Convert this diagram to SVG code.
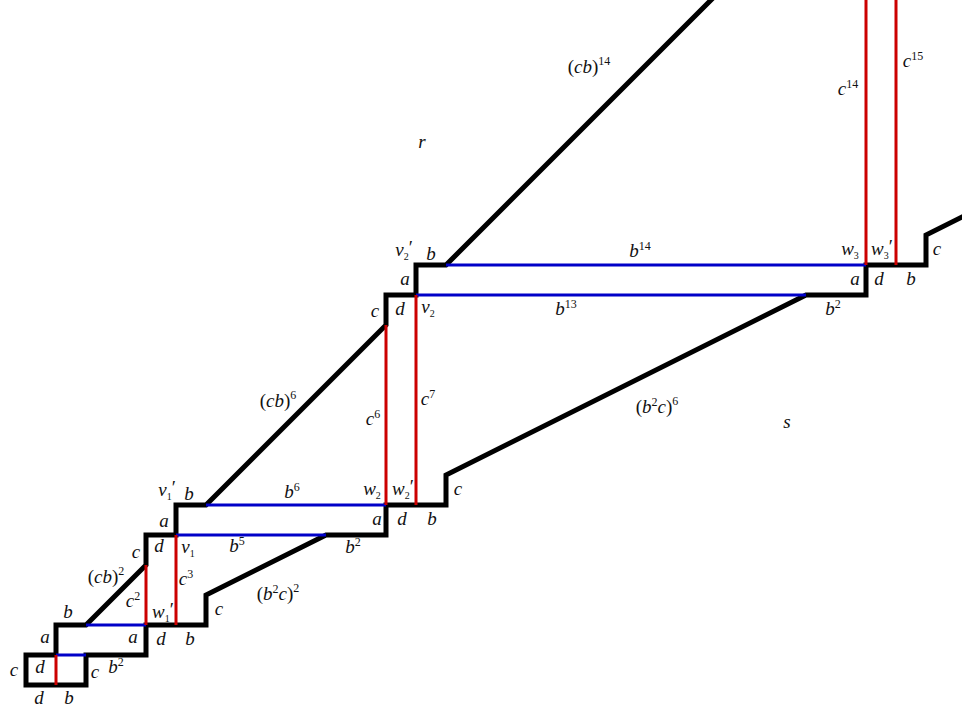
<svg xmlns="http://www.w3.org/2000/svg" width="962" height="713" viewBox="0 0 962 713">
<style>
.blk{fill:none;stroke:#000;stroke-width:5;stroke-linejoin:miter;stroke-linecap:butt}
.blu{fill:none;stroke:#0000c8;stroke-width:3}
.red{fill:none;stroke:#cc0000;stroke-width:3}
text{font-family:"Liberation Serif","DejaVu Serif",serif;font-size:19px;font-style:italic;fill:#111;text-anchor:middle}
.u{font-style:normal}
.sp{font-style:normal;font-size:12px}
.sb{font-style:normal;font-size:10px}
</style>
<rect width="962" height="713" fill="#fff"/>
<g id="boundary">
<path class="blk" d="M56,655 V625 H86 L146,565 V535 H176 V505 H206 L386,325 V295 H416 V265 H446 L716,-5"/>
<path class="blk" d="M56,655 H26 V685 H86 V655 H146 V625 H206 V595 L326,535 H386 V505 H446 V475 L806,295 H866 V265 H926 V235 L970,213"/>
</g>
<g id="connectors">
<path class="blu" d="M56,655H86 M86,625H146 M176,535H326 M206,505H386 M416,295H806 M446,265H866"/>
<path class="red" d="M56,655V685 M146,565V625 M176,535V625 M386,325V505 M416,295V505 M866,0V265 M896,0V265"/>
</g>
<g id="labels">
<text x="14" y="676">c</text>
<text x="40" y="673">d</text>
<text x="95" y="678">c</text>
<text x="116" y="673">b<tspan class="sp" dy="-7">2</tspan></text>
<text x="39" y="704">d</text>
<text x="69" y="704">b</text>
<text x="45" y="643">a</text>
<text x="133" y="643">a</text>
<text x="161" y="645">d</text>
<text x="190" y="645">b</text>
<text x="68" y="618">b</text>
<text x="163" y="618">w<tspan class="sb" dy="4">1</tspan><tspan class="u" dy="-6">′</tspan></text>
<text x="133" y="607">c<tspan class="sp" dy="-7">2</tspan></text>
<text x="106" y="583"><tspan class="u">(</tspan>cb<tspan class="u">)</tspan><tspan class="sp" dy="-8">2</tspan></text>
<text x="186" y="585">c<tspan class="sp" dy="-7">3</tspan></text>
<text x="219" y="615">c</text>
<text x="278" y="600"><tspan class="u">(</tspan>b<tspan class="sp" dy="-7">2</tspan><tspan dy="7">c</tspan><tspan class="u">)</tspan><tspan class="sp" dy="-8">2</tspan></text>
<text x="136" y="558">c</text>
<text x="159" y="552">d</text>
<text x="188" y="553">v<tspan class="sb" dy="4">1</tspan></text>
<text x="237" y="552">b<tspan class="sp" dy="-7">5</tspan></text>
<text x="353" y="553">b<tspan class="sp" dy="-7">2</tspan></text>
<text x="164" y="527">a</text>
<text x="167" y="496">v<tspan class="sb" dy="4">1</tspan><tspan class="u" dy="-6">′</tspan></text>
<text x="189" y="500">b</text>
<text x="292" y="498">b<tspan class="sp" dy="-7">6</tspan></text>
<text x="372" y="495">w<tspan class="sb" dy="4">2</tspan></text>
<text x="403" y="495">w<tspan class="sb" dy="4">2</tspan><tspan class="u" dy="-6">′</tspan></text>
<text x="458" y="495">c</text>
<text x="377" y="525">a</text>
<text x="402" y="525">d</text>
<text x="432" y="525">b</text>
<text x="278" y="407"><tspan class="u">(</tspan>cb<tspan class="u">)</tspan><tspan class="sp" dy="-8">6</tspan></text>
<text x="373" y="425">c<tspan class="sp" dy="-7">6</tspan></text>
<text x="428" y="405">c<tspan class="sp" dy="-7">7</tspan></text>
<text x="657" y="413"><tspan class="u">(</tspan>b<tspan class="sp" dy="-7">2</tspan><tspan dy="7">c</tspan><tspan class="u">)</tspan><tspan class="sp" dy="-8">6</tspan></text>
<text x="787" y="428">s</text>
<text x="375" y="317">c</text>
<text x="400" y="315">d</text>
<text x="428" y="313">v<tspan class="sb" dy="4">2</tspan></text>
<text x="566" y="315">b<tspan class="sp" dy="-7">13</tspan></text>
<text x="405" y="285">a</text>
<text x="404" y="256">v<tspan class="sb" dy="4">2</tspan><tspan class="u" dy="-6">′</tspan></text>
<text x="431" y="260">b</text>
<text x="640" y="257">b<tspan class="sp" dy="-7">14</tspan></text>
<text x="589" y="73"><tspan class="u">(</tspan>cb<tspan class="u">)</tspan><tspan class="sp" dy="-8">14</tspan></text>
<text x="422" y="148">r</text>
<text x="850" y="255">w<tspan class="sb" dy="4">3</tspan></text>
<text x="882" y="255">w<tspan class="sb" dy="4">3</tspan><tspan class="u" dy="-6">′</tspan></text>
<text x="937" y="255">c</text>
<text x="855" y="285">a</text>
<text x="879" y="285">d</text>
<text x="911" y="285">b</text>
<text x="833" y="315">b<tspan class="sp" dy="-7">2</tspan></text>
<text x="848" y="95">c<tspan class="sp" dy="-7">14</tspan></text>
<text x="913" y="67">c<tspan class="sp" dy="-7">15</tspan></text>
</g>
</svg>
